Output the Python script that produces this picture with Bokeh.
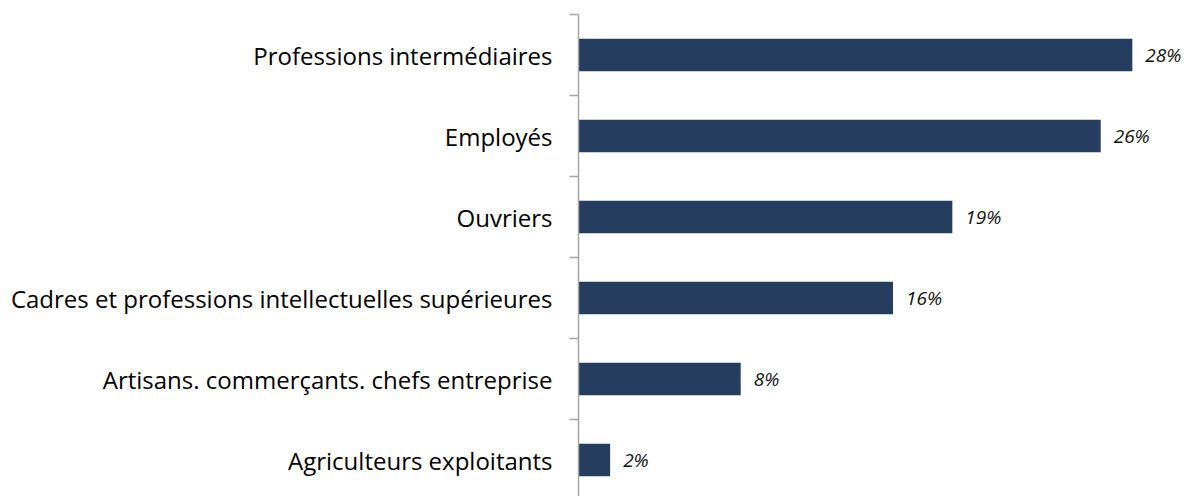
from bokeh.plotting import figure
from bokeh.models import Range1d, FixedTicker, ColumnDataSource, LabelSet
from bokeh.core.properties import value
from bokeh.embed import file_html
from bokeh.resources import INLINE

categories = ["Professions intermédiaires", "Employés", "Ouvriers",
              "Cadres et professions intellectuelles supérieures",
              "Artisans. commerçants. chefs entreprise", "Agriculteurs exploitants"]
values = [28.0, 26.4, 18.9, 15.9, 8.2, 1.6]
value_labels = ["28%", "26%", "19%", "16%", "8%", "2%"]

n = len(categories)
ypos = [n - 1 - i for i in range(n)]

src = ColumnDataSource(dict(y=ypos, v=values, lab=value_labels, cat=categories))

p = figure(width=1189, height=496, output_backend="svg", toolbar_location=None,
           x_range=Range1d(0, 30.89), y_range=Range1d(-0.45, n - 0.5),
           min_border_left=578, min_border_right=0, min_border_top=14, min_border_bottom=0,
           x_axis_location=None)
p.outline_line_color = None
p.grid.visible = False
p.background_fill_color = "white"
p.border_fill_color = "white"

p.hbar(y="y", right="v", left=0, height=0.4, source=src, color="#253e5f", line_color=None)

labels = LabelSet(x="v", y="y", text="lab", source=src, x_offset=13, y_offset=0,
                  text_baseline="middle", text_font=value("Open Sans"),
                  text_font_style="italic",
                  text_font_size="19px", text_color="#111111")
p.add_layout(labels)

ax = p.yaxis[0]
ax.ticker = FixedTicker(ticks=ypos, minor_ticks=[k - 0.5 for k in range(n + 1)])
ax.major_label_overrides = {y: c for y, c in zip(ypos, categories)}
ax.major_tick_line_color = None
ax.major_tick_out = 0
ax.major_tick_in = 0
ax.minor_tick_out = 9
ax.minor_tick_in = 0
ax.minor_tick_line_color = "#a6a6a6"
ax.minor_tick_line_width = 1.5
ax.axis_line_color = "#a6a6a6"
ax.axis_line_width = 1.5
ax.major_label_standoff = 17
ax.major_label_text_font = "Open Sans"
ax.major_label_text_font_size = "24px"
ax.major_label_text_color = "#000000"

open("out.html", "w").write(file_html(p, INLINE))
